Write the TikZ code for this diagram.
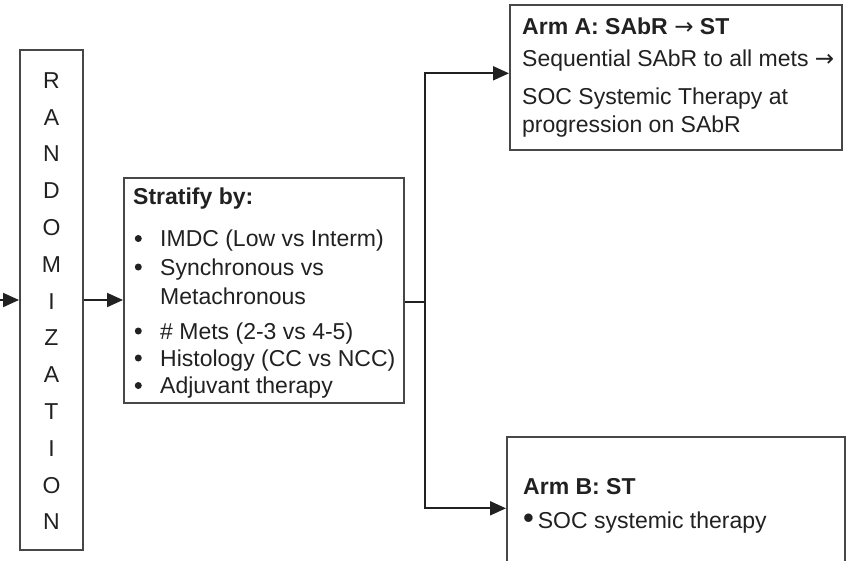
\documentclass[tikz,border=0pt]{standalone}
\usepackage{fontspec}
\setmainfont{Liberation Sans}
\newfontfamily\arrowfont{DejaVu Sans}
\usetikzlibrary{arrows.meta}
\definecolor{edgegray}{gray}{0.28}
\definecolor{inkgray}{gray}{0.13}
\newcommand{\rarr}{{\arrowfont\mdseries →}}
\newcommand{\bigdot}{{\fontsize{31}{28}\selectfont\textbullet}}
\begin{document}
\begin{tikzpicture}[x=1pt,y=-1pt,
  panel/.style={draw=edgegray, line width=2pt, fill=white, inner sep=0pt},
  txt/.style={anchor=base west, inner sep=0pt, text=inkgray,
    font=\fontsize{23}{28}\selectfont},
  hd/.style={txt, font=\fontsize{23}{28}\selectfont\bfseries},
  dot/.style={circle, fill=inkgray, inner sep=0pt, minimum size=7pt},
  letter/.style={anchor=base, inner sep=0pt, text=inkgray,
    font=\fontsize{23}{28}\selectfont},
  link/.style={draw=inkgray, line width=2pt},
  arr/.style={link, -{Triangle[length=16pt,width=14pt]}},
]
\useasboundingbox (0,0) rectangle (853,560);
\clip (0,0) rectangle (853,560);

% boxes
\node[panel, minimum width=63pt, minimum height=500pt] (rand) at (51.5,300) {};
\node[panel, minimum width=280pt, minimum height=225pt] (strat) at (264,290.5) {};
\node[panel, minimum width=332pt, minimum height=145pt] (armA) at (676,77.5) {};
\node[panel, minimum width=338pt, minimum height=153pt] (armB) at (676,513.5) {};

% vertical label
\foreach \ch [count=\i from 0] in {R,A,N,D,O,M,I,Z,A,T,I,O,N}
  \node[letter] (l\i) at (51.5,{88.2+36.8*\i}) {\ch};

% stratification factors
\node[hd] (sh) at (133,204) {Stratify by:};
\foreach \yy/\nm in {246.5/b1,275/b2,339/b3,366/b4,393.5/b5}
  \node[dot] (\nm) at (138.3,\yy-8) {};
\node[txt] (s1) at (160,246.5) {IMDC (Low vs Interm)};
\node[txt] (s2) at (160,275) {Synchronous vs};
\node[txt] (s3) at (160,304) {Metachronous};
\node[txt] (s4) at (160,339) {\# Mets (2-3 vs 4-5)};
\node[txt] (s5) at (160,366) {Histology (CC vs NCC)};
\node[txt] (s6) at (160,393.5) {Adjuvant therapy};

% arm A
\node[hd] (ah) at (522,34) {Arm A: SAbR \rarr{} ST};
\node[txt] (a1) at (522,66) {Sequential SAbR to all mets \rarr};
\node[txt] (a2) at (522,104) {SOC Systemic Therapy at};
\node[txt] (a3) at (522,132) {progression on SAbR};

% arm B
\node[hd] (bh) at (523,494) {Arm B: ST};
\node[txt] (b1t) at (523,528) {\bigdot\,SOC systemic therapy};

% connectors
\coordinate (src) at (0,300);
\coordinate (fork) at (424.5,301.7);
\coordinate (forkA) at (424.5,73.3);
\coordinate (forkB) at (424.5,508.3);

\draw[arr] (src) -- (rand.west |- src);
\draw[arr] (rand.east |- src) -- (strat.west |- src);
\draw[link] (strat.east |- fork) -- (fork);
\draw[link, line cap=rect] (forkA) -- (forkB);
\draw[arr] (forkA) -- (armA.west |- forkA);
\draw[arr] (forkB) -- (armB.west |- forkB);
\end{tikzpicture}
\end{document}
